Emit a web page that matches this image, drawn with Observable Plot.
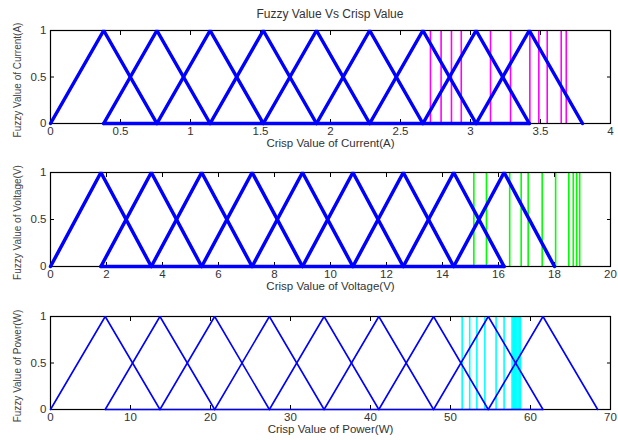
<!DOCTYPE html>
<html>
<head>
<meta charset="utf-8">
<script src="https://cdn.jsdelivr.net/npm/d3@7"></script>
<script src="https://cdn.jsdelivr.net/npm/@observablehq/plot@0.6"></script>
<style>
  body { margin: 0; background: #fff; font-family: "Liberation Sans", Arial, sans-serif; }
  #wrap { position: relative; width: 618px; height: 440px; overflow: hidden; background: #fff; }
  .panel { position: absolute; left: 0; overflow: visible; background: transparent !important; }
  #title { position: absolute; left: 50px; width: 560px; top: 7px; text-align: center;
           font-size: 12px; line-height: 14px; color: #333; }
</style>
</head>
<body>
<div id="wrap"><div id="title"></div></div>
<script>
const titleText = "Fuzzy Value Vs Crisp Value";

// Breakpoints of the triangular membership functions (feet and peaks)
const currentBreaks = [0, 0.38, 0.76, 1.14, 1.52, 1.90, 2.28, 2.66, 3.04, 3.42, 3.80];
const voltageBreaks = [0, 1.8, 3.6, 5.4, 7.2, 9.0, 10.8, 12.6, 14.4, 16.2, 18.0];
const powerBreaks   = [0, 6.84, 13.68, 20.52, 27.36, 34.20, 41.04, 47.88, 54.72, 61.56, 68.40];

// Measured crisp values
const currentCrisp = [2.714, 2.79, 2.864, 2.934, 3.143, 3.286, 3.424, 3.488, 3.548, 3.648, 3.684];
const voltageCrisp = [15.12, 15.57, 16.40, 16.81, 17.06, 17.56, 18.04, 18.51, 18.67, 18.79, 18.90];
const powerCrisp   = [51.46, 52.4, 53.3, 54.3, 55.7, 56.7, 57.7, 57.85, 58.0, 58.15, 58.3, 58.45, 58.6, 58.75];

// Axis ticks
const currentTicks = [0, 0.5, 1, 1.5, 2, 2.5, 3, 3.5, 4];
const voltageTicks = [0, 2, 4, 6, 8, 10, 12, 14, 16, 18, 20];
const powerTicks   = [0, 10, 20, 30, 40, 50, 60, 70];
const fuzzyTicks   = [0, 0.5, 1];

const xLabels = ["Crisp Value of Current(A)", "Crisp Value of Voltage(V)", "Crisp Value of Power(W)"];
const yLabels = ["Fuzzy Value of Current(A)", "Fuzzy Value of Voltage(V)", "Fuzzy Value of Power(W)"];

// One polyline per membership function, plus the zero baseline between the outer peaks
function trianglesFrom(breaks) {
  const rows = [];
  for (let i = 1; i < breaks.length - 1; ++i) {
    rows.push({set: i, x: breaks[i - 1], mu: 0},
              {set: i, x: breaks[i], mu: 1},
              {set: i, x: breaks[i + 1], mu: 0});
  }
  rows.push({set: 0, x: breaks[1], mu: 0}, {set: 0, x: breaks[breaks.length - 2], mu: 0});
  return rows;
}

function panel({top, frameHeight, xTicks, breaks, crisp, crispColor, lineWidth, xLabel, yLabel}) {
  const mt = 10, mb = 36;
  const svg = Plot.plot({
    width: 618,
    height: mt + frameHeight + mb,
    marginLeft: 50, marginRight: 8, marginTop: mt, marginBottom: mb,
    style: {fontFamily: "'Liberation Sans', Arial, sans-serif", fontSize: "11.5px", color: "#333", overflow: "visible"},
    x: {domain: [xTicks[0], xTicks[xTicks.length - 1]]},
    y: {domain: [0, 1]},
    marks: [
      Plot.ruleX(crisp, {x: d => d, y1: 0, y2: 1, stroke: crispColor, strokeWidth: 1.6}),
      Plot.frame({stroke: "#000", strokeWidth: 1.2}),
      Plot.axisX(xTicks, {anchor: "bottom", tickSize: -4, tickFormat: () => "", label: null, stroke: "#000"}),
      Plot.axisX(xTicks, {anchor: "top", tickSize: -4, tickFormat: () => "", label: null, stroke: "#000"}),
      Plot.axisY(fuzzyTicks, {anchor: "left", tickSize: -4, tickFormat: () => "", label: null, stroke: "#000"}),
      Plot.axisY(fuzzyTicks, {anchor: "right", tickSize: -4, tickFormat: () => "", label: null, stroke: "#000"}),
      Plot.line(trianglesFrom(breaks), {x: "x", y: "mu", z: "set", stroke: "#0000ff", strokeWidth: lineWidth, strokeLinejoin: "miter"}),
      Plot.axisX(xTicks, {anchor: "bottom", tickSize: 0, tickPadding: 3, label: null, tickFormat: d => `${d}`, fill: "#333"}),
      Plot.axisY(fuzzyTicks, {anchor: "left", tickSize: 0, tickPadding: 4, label: null, tickFormat: d => `${d}`, fill: "#333"}),
      Plot.text([xLabel], {text: d => d, frameAnchor: "bottom", dy: 23, fill: "#333", fontSize: 11.5}),
      Plot.text([yLabel], {text: d => d, frameAnchor: "left", textAnchor: "middle", dx: -33, dy: 3,
                           rotate: -90, fill: "#444", fontSize: 10})
    ]
  });
  svg.classList.add("panel");
  svg.style.top = `${top}px`;
  document.getElementById("wrap").appendChild(svg);
}

document.getElementById("title").textContent = titleText;

panel({top: 20, frameHeight: 93, xTicks: currentTicks, breaks: currentBreaks, crisp: currentCrisp,
       crispColor: "#ff00ff", lineWidth: 3.5, xLabel: xLabels[0], yLabel: yLabels[0]});
panel({top: 162, frameHeight: 94, xTicks: voltageTicks, breaks: voltageBreaks, crisp: voltageCrisp,
       crispColor: "#00ff00", lineWidth: 3.5, xLabel: xLabels[1], yLabel: yLabels[1]});
panel({top: 306, frameHeight: 93, xTicks: powerTicks, breaks: powerBreaks, crisp: powerCrisp,
       crispColor: "#00ffff", lineWidth: 1.6, xLabel: xLabels[2], yLabel: yLabels[2]});
</script>
</body>
</html>
